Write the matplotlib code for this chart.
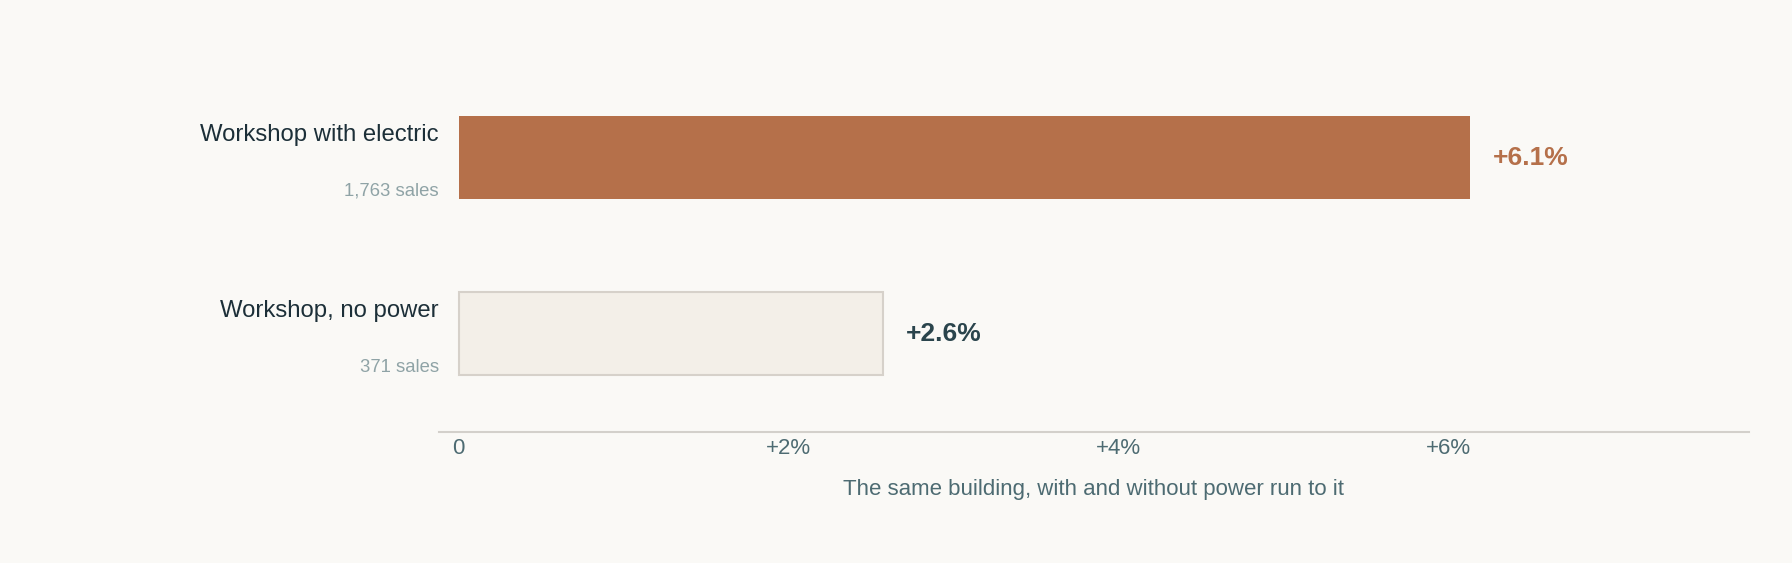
import matplotlib
matplotlib.use("Agg")
import matplotlib.pyplot as plt
import matplotlib.transforms as mtransforms

# data
categories = ["Workshop with electric", "Workshop, no power"]
sales = ["1,763 sales", "371 sales"]
uplift = [6.13, 2.57]
tick_vals = [0, 2, 4, 6]
tick_labels = ["0", "+2%", "+4%", "+6%"]
xlabel = "The same building, with and without power run to it"

BG = "#faf9f6"
ORANGE = "#b5704a"
PALE = "#f3efe8"
PALE_EDGE = "#d6d1ca"
DARK = "#1c2f38"
TICK = "#4d6b72"
MUTED = "#8fa3a6"
VAL2 = "#2a444c"

plt.rcParams["font.family"] = ["Liberation Sans", "DejaVu Sans"]

fig = plt.figure(figsize=(17.92, 5.63), dpi=100, facecolor=BG)
ax = fig.add_axes([0.2449, 0.2327, 0.9758 - 0.2449, 0.876 - 0.2327])
ax.set_facecolor(BG)

y = list(range(len(categories)))
face = [ORANGE, PALE]
edge = [ORANGE, PALE_EDGE]
lw = [0, 1.5]
for i in y:
    ax.barh(i, uplift[i], height=0.47, color=face[i], edgecolor=edge[i], linewidth=lw[i])

ax.set_xlim(-0.12, 7.82)
ax.set_ylim(1.558, -0.5)

for s in ["top", "right", "left"]:
    ax.spines[s].set_visible(False)
ax.spines["bottom"].set_color("#d3d0cb")
ax.spines["bottom"].set_linewidth(1.5)

ax.set_yticks([])
ax.set_xticks(tick_vals)
ax.set_xticklabels(tick_labels)
ax.tick_params(axis="x", length=0, pad=4, labelsize=16, labelcolor=TICK)
ax.set_xlabel(xlabel, fontsize=16, color=TICK, labelpad=15)

trans = mtransforms.blended_transform_factory(ax.transAxes, ax.transData)
val_colors = [ORANGE, VAL2]
for i in y:
    ax.text(0, i - 0.13, categories[i], transform=trans, ha="right", va="center",
            fontsize=17.2, color=DARK)
    ax.text(0, i + 0.19, sales[i], transform=trans, ha="right", va="center",
            fontsize=13.3, color=MUTED)
    ax.annotate(f"+{uplift[i]:.1f}%", xy=(uplift[i], i), xytext=(16.5, 0),
                textcoords="offset points", ha="left", va="center",
                fontsize=19, fontweight="bold", color=val_colors[i])

fig.savefig("out.png", dpi=100, facecolor=BG)
